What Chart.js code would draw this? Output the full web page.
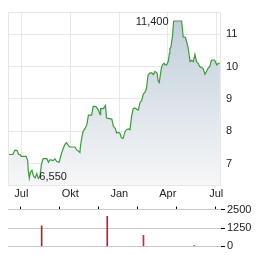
<!DOCTYPE html>
<html>
<head>
<meta charset="utf-8">
<script src="https://cdn.jsdelivr.net/npm/chart.js@4"></script>
<style>
  html, body { margin: 0; padding: 0; background: #fff; width: 264px; height: 255px; overflow: hidden; }
  #priceBox { position: absolute; left: 0; top: 0; width: 264px; height: 201px; }
  #volBox { position: absolute; left: 0; top: 201px; width: 264px; height: 54px; }
</style>
</head>
<body>
<div id="priceBox"><canvas id="priceCanvas"></canvas></div>
<div id="volBox"><canvas id="volCanvas"></canvas></div>
<script>
// Tage relativ zum 1. Juli (erster Monat auf der Achse)
const dayOffsets = [-23,-16,-12,-8,-5,-2,0,9,12,13,15,17,20,23,26,29,32,35,38,41,48,51,54,60,63,66,71,76,79,82,85,88,91,98,101,104,107,110,111,113,116,120,123,126,129,132,135,138,141,145,148,149,154,158,160,163,170,173,176,179,182,185,188,191,195,198,201,204,207,210,213,217,220,223,226,229,232,235,238,242,245,248,251,255,257,259,263,265,268,270,273,276,278,279,281,284,286,288,292,296,301,304,308,311,313,317,320,323,326,329,332,335,338,341,345,348,351,354,357,360,363,367,370,373];
const priceValues = [7.29,7.29,7.42,7.41,7.29,7.28,7.23,7.23,7.10,6.80,6.56,6.74,6.80,6.62,6.57,6.70,6.55,6.62,7.01,7.16,7.16,7.05,7.13,7.10,7.16,7.08,7.05,7.35,7.49,7.60,7.65,7.58,7.52,7.52,7.52,7.43,7.40,7.35,7.52,7.76,8.00,8.10,8.20,8.50,8.50,8.50,8.77,8.77,8.75,8.65,8.52,8.70,8.70,8.80,8.42,8.40,8.38,8.15,8.10,7.95,7.97,7.95,7.80,7.78,8.00,8.06,8.08,8.05,8.45,8.70,8.72,8.68,8.66,8.90,8.95,9.15,9.20,9.32,9.74,9.80,9.80,9.75,9.85,9.80,9.55,9.50,9.95,10.05,10.10,10.05,10.05,10.16,10.40,10.55,10.60,10.95,11.39,11.40,11.40,11.40,11.40,10.91,10.90,10.73,10.60,10.15,10.19,10.15,10.37,10.15,10.10,10.00,9.97,9.95,9.76,9.85,9.95,10.00,10.19,10.20,10.20,10.05,10.10,10.10];

const tickDays = [0, 92, 184, 275, 366];
const tickLabels = ["Jul", "Okt", "Jan", "Apr", "Jul"];
const priceTicks = [7, 8, 9, 10, 11];

// Umsatz
const volDays = [4, 158, 243, 362];
const volValues = [1400, 2050, 750, 60];
const volColors = ["#a8282c", "#a8282c", "#d9262c", "#d9262c"];
const volTicks = [0, 1250, 2500];

const FONT = { family: "'Liberation Sans', Arial, sans-serif", size: 11 };
const TEXT = "#222";

const fmt = v => v.toFixed(3).replace(".", ",");

// Rahmen um die Zeichenfläche
const framePlugin = {
  id: "frame",
  beforeDatasetsDraw(chart) {
    const a = chart.chartArea, c = chart.ctx;
    c.save();
    c.strokeStyle = "#e6e6e6";
    c.lineWidth = 1;
    c.strokeRect(Math.round(a.left) + 0.5, Math.round(a.top) + 0.5, Math.round(a.right - a.left) - 1, Math.round(a.bottom - a.top));
    c.restore();
  }
};

// Hoch- und Tiefpunkt beschriften
const extremePlugin = {
  id: "extremes",
  afterDatasetsDraw(chart) {
    const xs = chart.scales.x, ys = chart.scales.y, c = chart.ctx;
    const maxV = Math.max(...priceValues), minV = Math.min(...priceValues);
    const iMax = priceValues.findIndex(v => v >= maxV - 0.011);
    const iMin = priceValues.indexOf(minV);
    c.save();
    c.font = "11px 'Liberation Sans', Arial, sans-serif";
    c.fillStyle = TEXT;
    c.textBaseline = "middle";
    c.textAlign = "right";
    c.fillText(fmt(maxV), xs.getPixelForValue(dayOffsets[iMax]) - 5, ys.getPixelForValue(maxV) + 0.5);
    c.textAlign = "left";
    c.fillText(fmt(minV), xs.getPixelForValue(dayOffsets[iMin]) + 1, ys.getPixelForValue(minV) - 1.5);
    c.restore();
  }
};

new Chart(document.getElementById("priceCanvas"), {
  type: "line",
  data: {
    datasets: [{
      data: dayOffsets.map((d, i) => ({ x: d, y: priceValues[i] })),
      borderColor: "#3d9a3d",
      borderWidth: 1.2,
      pointRadius: 0,
      tension: 0,
      fill: "start",
      backgroundColor: ctx => {
        const area = ctx.chart.chartArea;
        if (!area) return "rgba(200,210,218,0.6)";
        const g = ctx.chart.ctx.createLinearGradient(0, area.top, 0, area.bottom);
        g.addColorStop(0, "rgb(190,204,216)");
        g.addColorStop(1, "rgb(246,247,248)");
        return g;
      }
    }]
  },
  options: {
    responsive: true,
    maintainAspectRatio: false,
    animation: false,
    layout: { padding: { left: 8, top: 7, right: 0, bottom: 0 } },
    plugins: { legend: { display: false }, tooltip: { enabled: false } },
    scales: {
      x: {
        type: "linear", min: -25, max: 375,
        afterBuildTicks: s => { s.ticks = tickDays.map(v => ({ value: v })); },
        afterFit: s => { s.height = 16; },
        ticks: { callback: (v, i) => tickLabels[i], padding: 2, font: FONT, color: TEXT, maxRotation: 0, autoSkip: false },
        grid: { color: "#e8e8e8", drawTicks: false },
        border: { display: false }
      },
      y: {
        position: "right", min: 6.35, max: 11.69,
        afterBuildTicks: s => { s.ticks = priceTicks.map(v => ({ value: v })); },
        afterFit: s => { s.width = 43; },
        ticks: { callback: v => String(v), padding: 5, font: FONT, color: TEXT },
        grid: { color: "#e8e8e8", drawTicks: false },
        border: { display: false }
      }
    }
  },
  plugins: [framePlugin, extremePlugin]
});

new Chart(document.getElementById("volCanvas"), {
  type: "bar",
  data: {
    datasets: [{
      data: volDays.map((d, i) => ({ x: d, y: volValues[i] })),
      backgroundColor: volColors,
      barThickness: 1
    }]
  },
  options: {
    responsive: true,
    maintainAspectRatio: false,
    animation: false,
    layout: { padding: { left: 8, top: 0, right: 0, bottom: 8 } },
    plugins: { legend: { display: false }, tooltip: { enabled: false } },
    scales: {
      x: {
        type: "linear", position: "top", min: -25, max: 375,
        afterBuildTicks: s => { s.ticks = tickDays.map(v => ({ value: v })); },
        afterFit: s => { s.height = 7; },
        ticks: { display: false },
        grid: { drawOnChartArea: false, drawTicks: true, tickLength: 3, tickColor: "#000" },
        border: { display: false }
      },
      y: {
        position: "right", min: 0, max: 2500,
        afterBuildTicks: s => { s.ticks = volTicks.map(v => ({ value: v })); },
        afterFit: s => { s.width = 43; },
        ticks: { callback: v => String(v), padding: 2, font: FONT, color: TEXT },
        grid: { color: "#c8c8c8", tickLength: 4, tickColor: "#000" },
        border: { display: false }
      }
    }
  }
});
</script>
</body>
</html>
